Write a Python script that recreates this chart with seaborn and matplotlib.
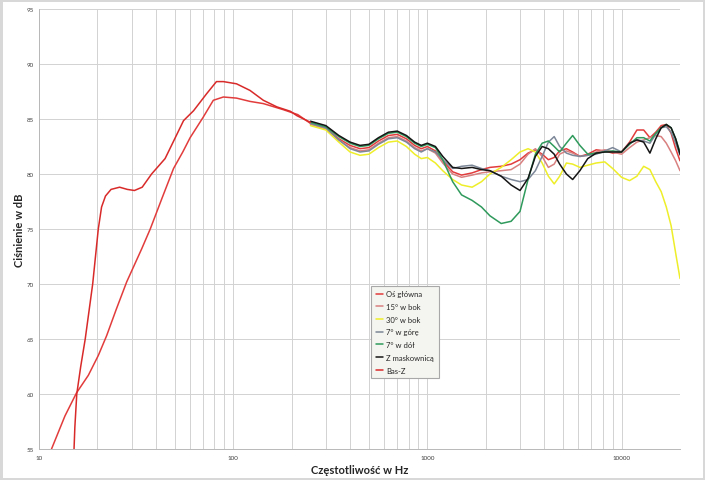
import pandas as pd
import matplotlib.pyplot as plt
import seaborn as sns
from matplotlib.ticker import FixedLocator, NullFormatter

# dane odczytane z wykresu
# czestotliwosci wspolne dla pomiarow katowych (Hz)
freq_hi = [250, 300, 350, 400, 450, 500, 560, 630, 700, 780, 860, 930, 1000,
           1100, 1200, 1350, 1500, 1700, 1900, 2100, 2400, 2700, 3000, 3300,
           3600, 3900, 4200, 4500, 4800, 5200, 5600, 6100, 6700, 7400, 8200,
           9000, 10000, 11000, 12000, 13000, 14000, 15000, 16000, 17000,
           18000, 19000, 20000]

# os glowna - czesc niskotonowa + czesc wspolna
freq_os_low = [11.6, 13.6, 15.6, 17.95, 20.2, 22.3, 25, 28.3, 33.8, 37.4, 43,
               49.3, 55, 60, 70, 79, 89, 104, 122, 143, 181, 215]
db_os_low = [55, 58, 60.1, 61.7, 63.5, 65.3, 67.7, 70.2, 73.2, 75, 77.8, 80.5,
             82, 83.3, 85.15, 86.7, 87.0, 86.9, 86.6, 86.4, 85.85, 85.4]
db_os_hi = [84.6, 84.2, 83.2, 82.6, 82.3, 82.4, 83.0, 83.5, 83.6, 83.2, 82.6,
            82.3, 82.5, 82.1, 81.2, 80.2, 79.9, 80.1, 80.4, 80.6, 80.7, 80.9,
            81.3, 81.9, 82.2, 81.8, 81.3, 81.5, 82.1, 82.3, 82.0, 81.6, 81.8,
            82.2, 82.1, 81.9, 82.0, 82.9, 84.0, 84.0, 83.3, 83.8, 84.4, 84.5,
            83.7, 82.3, 81.2]

db_15 = [84.5, 84.1, 83.1, 82.4, 82.1, 82.2, 82.8, 83.3, 83.4, 83.0, 82.4,
         82.1, 82.3, 81.9, 81.0, 80.0, 79.7, 79.9, 80.1, 80.2, 80.3, 80.4,
         80.9, 81.8, 82.3, 81.6, 80.6, 80.9, 81.8, 82.1, 81.9, 81.6, 81.7,
         82.0, 82.2, 82.0, 81.8, 82.4, 82.9, 83.1, 83.3, 83.5, 83.4, 82.8,
         82.0, 81.2, 80.3]

db_30 = [84.4, 84.0, 82.9, 82.0, 81.7, 81.8, 82.4, 82.9, 83.0, 82.5, 81.8,
         81.4, 81.5, 81.0, 80.3, 79.5, 79.0, 78.8, 79.3, 80.0, 80.6, 81.3,
         82.0, 82.3, 82.0, 81.0, 79.8, 79.1, 79.8, 81.0, 80.9, 80.6, 80.8,
         81.0, 81.1, 80.5, 79.7, 79.4, 79.8, 80.7, 80.4, 79.3, 78.4, 77.0,
         75.3, 72.8, 70.5]

db_7_up = [84.6, 84.2, 83.1, 82.3, 82.0, 82.1, 82.7, 83.2, 83.3, 82.9, 82.3,
           82.0, 82.3, 82.0, 81.3, 80.5, 80.7, 80.8, 80.5, 80.3, 79.8, 79.5,
           79.3, 79.5, 80.3, 81.6, 82.9, 83.4, 82.5, 81.9, 81.7, 81.6, 81.7,
           81.8, 82.1, 82.4, 82.0, 82.8, 83.1, 83.0, 82.8, 83.6, 84.2, 84.3,
           83.8, 82.8, 81.7]

db_7_down = [84.7, 84.3, 83.4, 82.8, 82.5, 82.6, 83.2, 83.7, 83.8, 83.4, 82.8,
             82.5, 82.7, 82.4, 81.3, 79.3, 78.1, 77.6, 77.0, 76.2, 75.5, 75.7,
             76.6, 79.5, 81.8, 82.8, 83.0, 82.5, 82.0, 82.8, 83.5, 82.6, 81.8,
             81.9, 82.0, 82.1, 82.0, 82.7, 83.3, 83.3, 83.0, 83.7, 84.2, 84.5,
             84.2, 83.2, 82.0]

db_mask = [84.8, 84.4, 83.5, 82.9, 82.6, 82.7, 83.3, 83.8, 83.9, 83.5, 82.9,
           82.6, 82.8, 82.5, 81.6, 80.6, 80.5, 80.6, 80.4, 80.3, 79.8, 79.0,
           78.5, 79.6, 81.6, 82.5, 82.3, 81.8, 80.9, 80.0, 79.5, 80.3, 81.4,
           81.9, 82.0, 82.0, 82.0, 82.8, 83.1, 82.9, 81.9, 83.2, 84.2, 84.5,
           84.2, 83.2, 81.8]

# Bas-Z
freq_basz = [15.15, 15.3, 15.65, 16.4, 17.3, 18.9, 20.2, 21, 22, 23.5, 26, 28.5,
             31, 34, 38, 44.6, 50, 55.5, 62.5, 73, 82, 89, 104, 122, 143, 168,
             197, 213, 250]
db_basz = [55, 57, 60, 62.5, 65, 70, 75, 77, 78, 78.6, 78.8, 78.6, 78.5, 78.8,
           80, 81.4, 83.2, 84.85, 85.75, 87.3, 88.4, 88.4, 88.2, 87.6, 86.7,
           86.1, 85.7, 85.3, 84.7]

series = ['Oś główna', '15° w bok', '30° w bok', '7° w górę', '7° w dół',
          'Z maskownicą', 'Bas-Z']
colors = ['#e23c3c', '#d98080', '#eeee2a', '#7c8798', '#2f9a5c', '#151515',
          '#d92a2a']

# budowa tabeli
frames = [
    pd.DataFrame({'f': freq_os_low + freq_hi, 'db': db_os_low + db_os_hi,
                  's': series[0]}),
    pd.DataFrame({'f': freq_hi, 'db': db_15, 's': series[1]}),
    pd.DataFrame({'f': freq_hi, 'db': db_30, 's': series[2]}),
    pd.DataFrame({'f': freq_hi, 'db': db_7_up, 's': series[3]}),
    pd.DataFrame({'f': freq_hi, 'db': db_7_down, 's': series[4]}),
    pd.DataFrame({'f': freq_hi, 'db': db_mask, 's': series[5]}),
    pd.DataFrame({'f': freq_basz, 'db': db_basz, 's': series[6]}),
]
df = pd.concat(frames, ignore_index=True)

sns.set_style('white')
plt.rcParams['font.family'] = ['Lato', 'DejaVu Sans']

fig = plt.figure(figsize=(7.05, 4.81), dpi=100, linewidth=2.5,
                 edgecolor='#d8d8d8')
ax = fig.add_axes([39 / 705, 1 - 450 / 481, 641 / 705, 440 / 481])

sns.lineplot(data=df, x='f', y='db', hue='s', hue_order=series,
             palette=dict(zip(series, colors)), estimator=None, sort=True,
             linewidth=1.1, ax=ax)

ax.set_xscale('log')
ax.set_xlim(10, 20000)
ax.set_ylim(55, 95)
ax.xaxis.set_major_locator(FixedLocator([10, 100, 1000, 10000]))
ax.xaxis.set_minor_locator(FixedLocator(
    [m * d for d in [10, 100, 1000] for m in range(2, 10)] + [20000]))
ax.xaxis.set_minor_formatter(NullFormatter())
ax.set_xticklabels(['10', '100', '1000', '10000'])
ax.set_yticks(range(55, 96, 5))
ax.grid(True, which='both', color='#d2d2d2', linewidth=0.7)
ax.set_axisbelow(True)
for s in ['top', 'right']:
    ax.spines[s].set_visible(False)
for s in ['left', 'bottom']:
    ax.spines[s].set_color('#b8b8b8')
    ax.spines[s].set_linewidth(0.7)
ax.tick_params(axis='both', which='major', length=2, width=0.6,
               color='#b8b8b8', labelsize=4.5, labelcolor='#404040', pad=2)
ax.tick_params(axis='x', which='minor', length=2, width=0.6, color='#b8b8b8')

ax.set_xlabel('Częstotliwość w Hz', fontsize=8, fontweight='bold', labelpad=3)
ax.set_ylabel('Ciśnienie w dB', fontsize=8, fontweight='bold', labelpad=1)

leg = ax.legend(loc='upper left', bbox_to_anchor=(0.512, 0.38), fontsize=5.5,
                frameon=True, fancybox=False, handlelength=1.0,
                handletextpad=0.4, labelspacing=0.75, borderpad=0.6)
leg.get_frame().set_facecolor('#f4f4f0')
leg.get_frame().set_edgecolor('#a8a8a8')
leg.get_frame().set_linewidth(0.8)
leg.get_frame().set_alpha(1)

fig.savefig('out.png', dpi=100)
